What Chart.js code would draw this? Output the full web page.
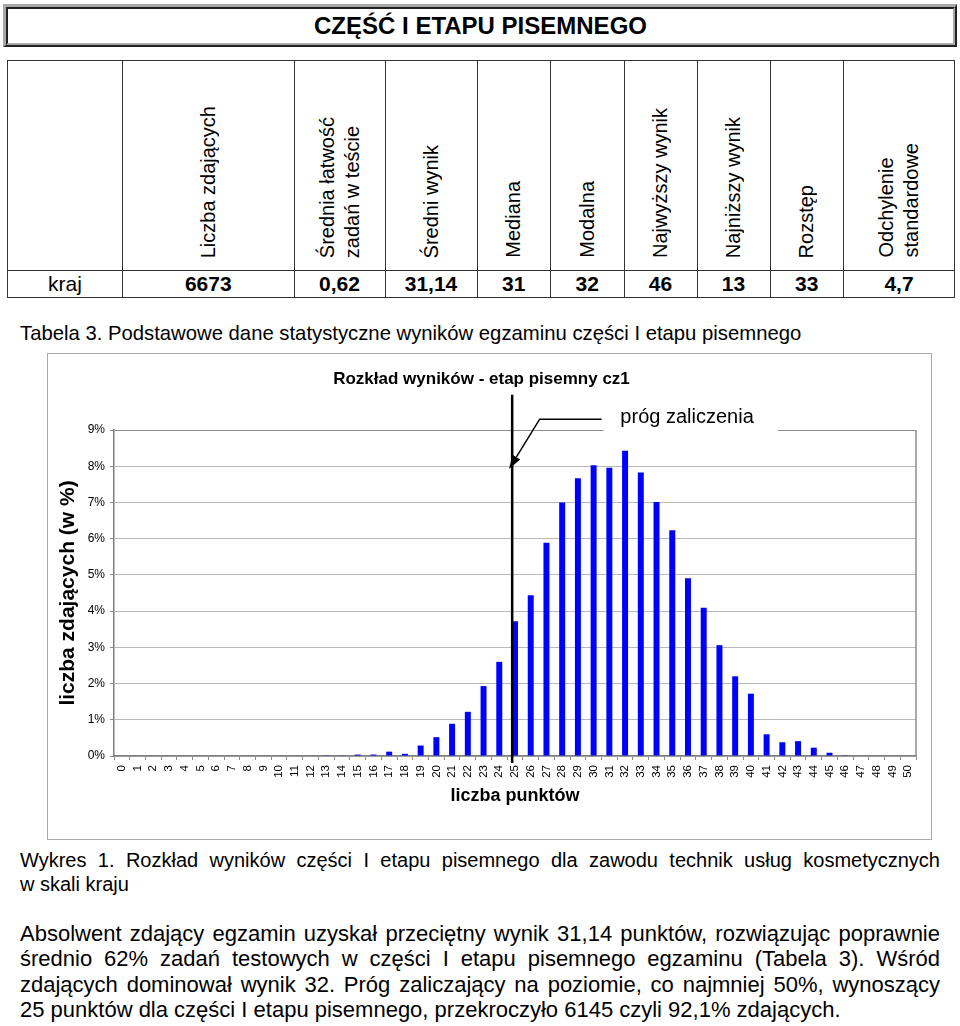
<!DOCTYPE html>
<html><head><meta charset="utf-8">
<script src="https://cdn.jsdelivr.net/npm/chart.js@4.4.1/dist/chart.umd.min.js"></script>
<style>
html,body{margin:0;padding:0;background:#fff;}
body{width:960px;height:1026px;position:relative;overflow:hidden;font-family:"Liberation Sans",Arial,Helvetica,sans-serif;color:#000;}
#titlebox{position:absolute;left:3px;top:4px;width:954px;height:43px;box-sizing:border-box;border-top:3px solid #a8a8a8;border-left:3px solid #a8a8a8;border-right:2px solid #222;border-bottom:2px solid #222;}
#titlebox .inner{position:absolute;left:0;top:0;right:0;bottom:0;border-top:2px solid #222;border-left:2px solid #222;border-right:2px solid #a8a8a8;border-bottom:2px solid #a8a8a8;font-weight:bold;font-size:24px;text-align:center;line-height:34px;}
#stats{position:absolute;left:7px;top:60px;border-collapse:collapse;table-layout:fixed;width:947px;}
#stats td{border:1.5px solid #333;padding:0;}
.hc{height:209px;display:flex;align-items:flex-end;justify-content:center;}
.rot{writing-mode:vertical-rl;transform:rotate(180deg);font-size:20px;line-height:25px;text-align:left;white-space:nowrap;margin-bottom:12px;}
.hv{height:26px;line-height:26px;font-size:21px;font-weight:bold;text-align:center;}
.hv.first{font-weight:normal;}
.txt{position:absolute;left:20px;width:920px;}
.ln{text-align:justify;text-align-last:justify;}
.ln.last{text-align:left;text-align-last:left;}
#tab3{top:321px;font-size:20.3px;line-height:24px;}
#wyk{top:848px;font-size:20px;line-height:24px;}
#para{top:921px;font-size:22px;line-height:25.3px;}
#chartwrap{position:absolute;left:47px;top:353px;width:885px;height:487px;}
</style>
</head><body>
<div id="titlebox"><div class="inner">CZĘŚĆ I ETAPU PISEMNEGO</div></div>
<table id="stats"><colgroup id="cols"></colgroup><tr id="hrow"></tr><tr id="vrow"></tr></table>
<div class="txt" id="tab3">Tabela 3. Podstawowe dane statystyczne wyników egzaminu części I etapu pisemnego</div>
<div id="chartwrap"><canvas id="c" width="885" height="487"></canvas></div>
<div class="txt" id="wyk">
<div class="ln">Wykres 1. Rozkład wyników części I etapu pisemnego dla zawodu technik usług kosmetycznych</div>
<div class="ln last">w skali kraju</div>
</div>
<div class="txt" id="para">
<div class="ln">Absolwent zdający egzamin uzyskał przeciętny wynik 31,14 punktów, rozwiązując poprawnie</div>
<div class="ln">średnio 62% zadań testowych w części I etapu pisemnego egzaminu (Tabela 3). Wśród</div>
<div class="ln">zdających dominował wynik 32. Próg zaliczający na poziomie, co najmniej 50%, wynoszący</div>
<div class="ln last">25 punktów dla części I etapu pisemnego, przekroczyło 6145 czyli 92,1% zdających.</div>
</div>
<script>
// ---- table data ----
const statHeaders = [[""], ["Liczba zdających"], ["Średnia łatwość","zadań w teście"], ["Średni wynik"], ["Mediana"], ["Modalna"], ["Najwyższy wynik"], ["Najniższy wynik"], ["Rozstęp"], ["Odchylenie","standardowe"]];
const statValues = ["kraj","6673","0,62","31,14","31","32","46","13","33","4,7"];
const statColWidths = [115, 171.5, 91, 92, 73.5, 73.5, 73, 73, 73.5, 111];

// ---- chart data ----
const scoreLabels = ["0","1","2","3","4","5","6","7","8","9","10","11","12","13","14","15","16","17","18","19","20","21","22","23","24","25","26","27","28","29","30","31","32","33","34","35","36","37","38","39","40","41","42","43","44","45","46","47","48","49","50"];
const sharePercent = [0,0,0,0,0,0,0,0,0,0,0,0,0,0.02,0.01,0.04,0.04,0.12,0.06,0.29,0.52,0.89,1.22,1.93,2.60,3.72,4.44,5.89,7.00,7.67,8.03,7.96,8.43,7.83,7.01,6.23,4.91,4.09,3.06,2.20,1.72,0.60,0.38,0.41,0.23,0.09,0.02,0,0,0,0];
const yTickValues = [0,1,2,3,4,5,6,7,8,9];
const chartTitle = "Rozkład wyników - etap pisemny cz1";
const xTitle = "liczba punktów";
const yTitle = "liczba zdających (w %)";
const thresholdLabel = "próg zaliczenia";
const THRESHOLD_INDEX = 25;

// build table
const cols = document.getElementById('cols');
statColWidths.forEach(w => { const c = document.createElement('col'); c.style.width = w + 'px'; cols.appendChild(c); });
const hrow = document.getElementById('hrow');
statHeaders.forEach(lines => {
  const td = document.createElement('td');
  const hc = document.createElement('div'); hc.className = 'hc';
  const r = document.createElement('div'); r.className = 'rot';
  r.innerHTML = lines.join('<br>');
  hc.appendChild(r); td.appendChild(hc); hrow.appendChild(td);
});
const vrow = document.getElementById('vrow');
statValues.forEach((v, i) => {
  const td = document.createElement('td');
  const d = document.createElement('div'); d.className = 'hv' + (i === 0 ? ' first' : '');
  d.textContent = v; td.appendChild(d); vrow.appendChild(td);
});

const FONT = '"Liberation Sans", Arial, Helvetica, sans-serif';
Chart.defaults.font.family = FONT;
Chart.defaults.color = '#000';

const decor = {
  id: 'decor',
  beforeDraw(chart) {
    const c = chart.ctx;
    c.save();
    c.fillStyle = '#fff';
    c.fillRect(0, 0, chart.width, chart.height);
    c.strokeStyle = '#a9a9a9'; c.lineWidth = 1;
    c.strokeRect(0.5, 0.5, chart.width - 1, chart.height - 1);
    c.restore();
  },
  afterDraw(chart) {
    const ctx = chart.ctx, a = chart.chartArea, x = chart.scales.x, y = chart.scales.y;
    ctx.save();
    ctx.strokeStyle = '#8c8c8c'; ctx.lineWidth = 1.5;
    ctx.beginPath(); ctx.moveTo(a.right, a.top); ctx.lineTo(a.right, a.bottom); ctx.stroke();
    const w = x.getPixelForValue(1) - x.getPixelForValue(0);
    const lx = x.getPixelForValue(THRESHOLD_INDEX) - 0.18 * w;
    // label box covering the top border
    const by0 = y.getPixelForValue(9.85), by1 = y.getPixelForValue(8.9);
    ctx.fillStyle = '#fff';
    ctx.fillRect(lx + 5.8 * w, by0, 11.1 * w, by1 - by0);
    ctx.fillStyle = '#000';
    ctx.font = '20px ' + FONT;
    ctx.textBaseline = 'alphabetic'; ctx.textAlign = 'left';
    ctx.fillText(thresholdLabel, lx + 6.88 * w, y.getPixelForValue(9.19));
    // threshold line
    ctx.strokeStyle = '#000'; ctx.lineWidth = 2.5;
    ctx.beginPath(); ctx.moveTo(lx, y.getPixelForValue(9.97)); ctx.lineTo(lx, y.getPixelForValue(-0.19)); ctx.stroke();
    // leader with arrow
    const sx = lx + 5.69 * w, ex = lx + 1.75 * w, ey = y.getPixelForValue(9.3);
    const tx = lx - 0.2 * w, ty = y.getPixelForValue(7.92);
    const ang = Math.atan2(ty - ey, tx - ex);
    const L = 14, H = 4.5;
    const bx = tx - L * Math.cos(ang), byy = ty - L * Math.sin(ang);
    ctx.lineWidth = 1.5;
    ctx.beginPath(); ctx.moveTo(sx, ey); ctx.lineTo(ex, ey); ctx.lineTo(bx, byy); ctx.stroke();
    ctx.beginPath();
    ctx.moveTo(tx, ty);
    ctx.lineTo(bx + H * Math.sin(ang), byy - H * Math.cos(ang));
    ctx.lineTo(bx - H * Math.sin(ang), byy + H * Math.cos(ang));
    ctx.closePath(); ctx.fill();
    ctx.restore();
  }
};

new Chart(document.getElementById('c'), {
  type: 'bar',
  data: {
    labels: scoreLabels,
    datasets: [{ data: sharePercent, backgroundColor: '#0000ff', borderWidth: 0, barPercentage: 0.38, categoryPercentage: 1 }]
  },
  options: {
    responsive: false,
    animation: false,
    layout: { padding: { left: 0, right: 16, top: 0, bottom: 0 } },
    plugins: {
      legend: { display: false },
      tooltip: { enabled: false },
      title: { display: true, text: chartTitle, color: '#000', font: { size: 17, weight: 'bold' }, padding: { top: 16, bottom: 40.6 } }
    },
    scales: {
      x: {
        afterFit: s => { s.height = 84; },
        grid: { drawOnChartArea: false, drawTicks: true, tickLength: 4, color: '#8c8c8c', offset: true },
        border: { color: '#7f7f7f', width: 1.5 },
        ticks: { autoSkip: false, minRotation: 90, maxRotation: 90, padding: 5, color: '#000', font: { size: 11.5 } },
        title: { display: true, text: xTitle, color: '#000', font: { size: 18, weight: 'bold' }, padding: { top: 0, bottom: 33 } }
      },
      y: {
        min: 0, max: 9,
        afterFit: s => { s.width = 67; },
        afterBuildTicks: s => { s.ticks = yTickValues.map(v => ({ value: v })); },
        grid: { color: c => (c.tick && c.tick.value === 9) ? '#8c8c8c' : '#b8b8b8', tickColor: '#8c8c8c', tickLength: 4, lineWidth: 1 },
        border: { color: '#7f7f7f', width: 1.5 },
        ticks: { padding: 5, color: '#000', font: { size: 12 }, callback: v => v + '%' },
        title: { display: true, text: yTitle, color: '#000', font: { size: 21, weight: 'bold' }, padding: { top: 8.4, bottom: 0 } }
      }
    }
  },
  plugins: [decor]
});
</script>
</body></html>
